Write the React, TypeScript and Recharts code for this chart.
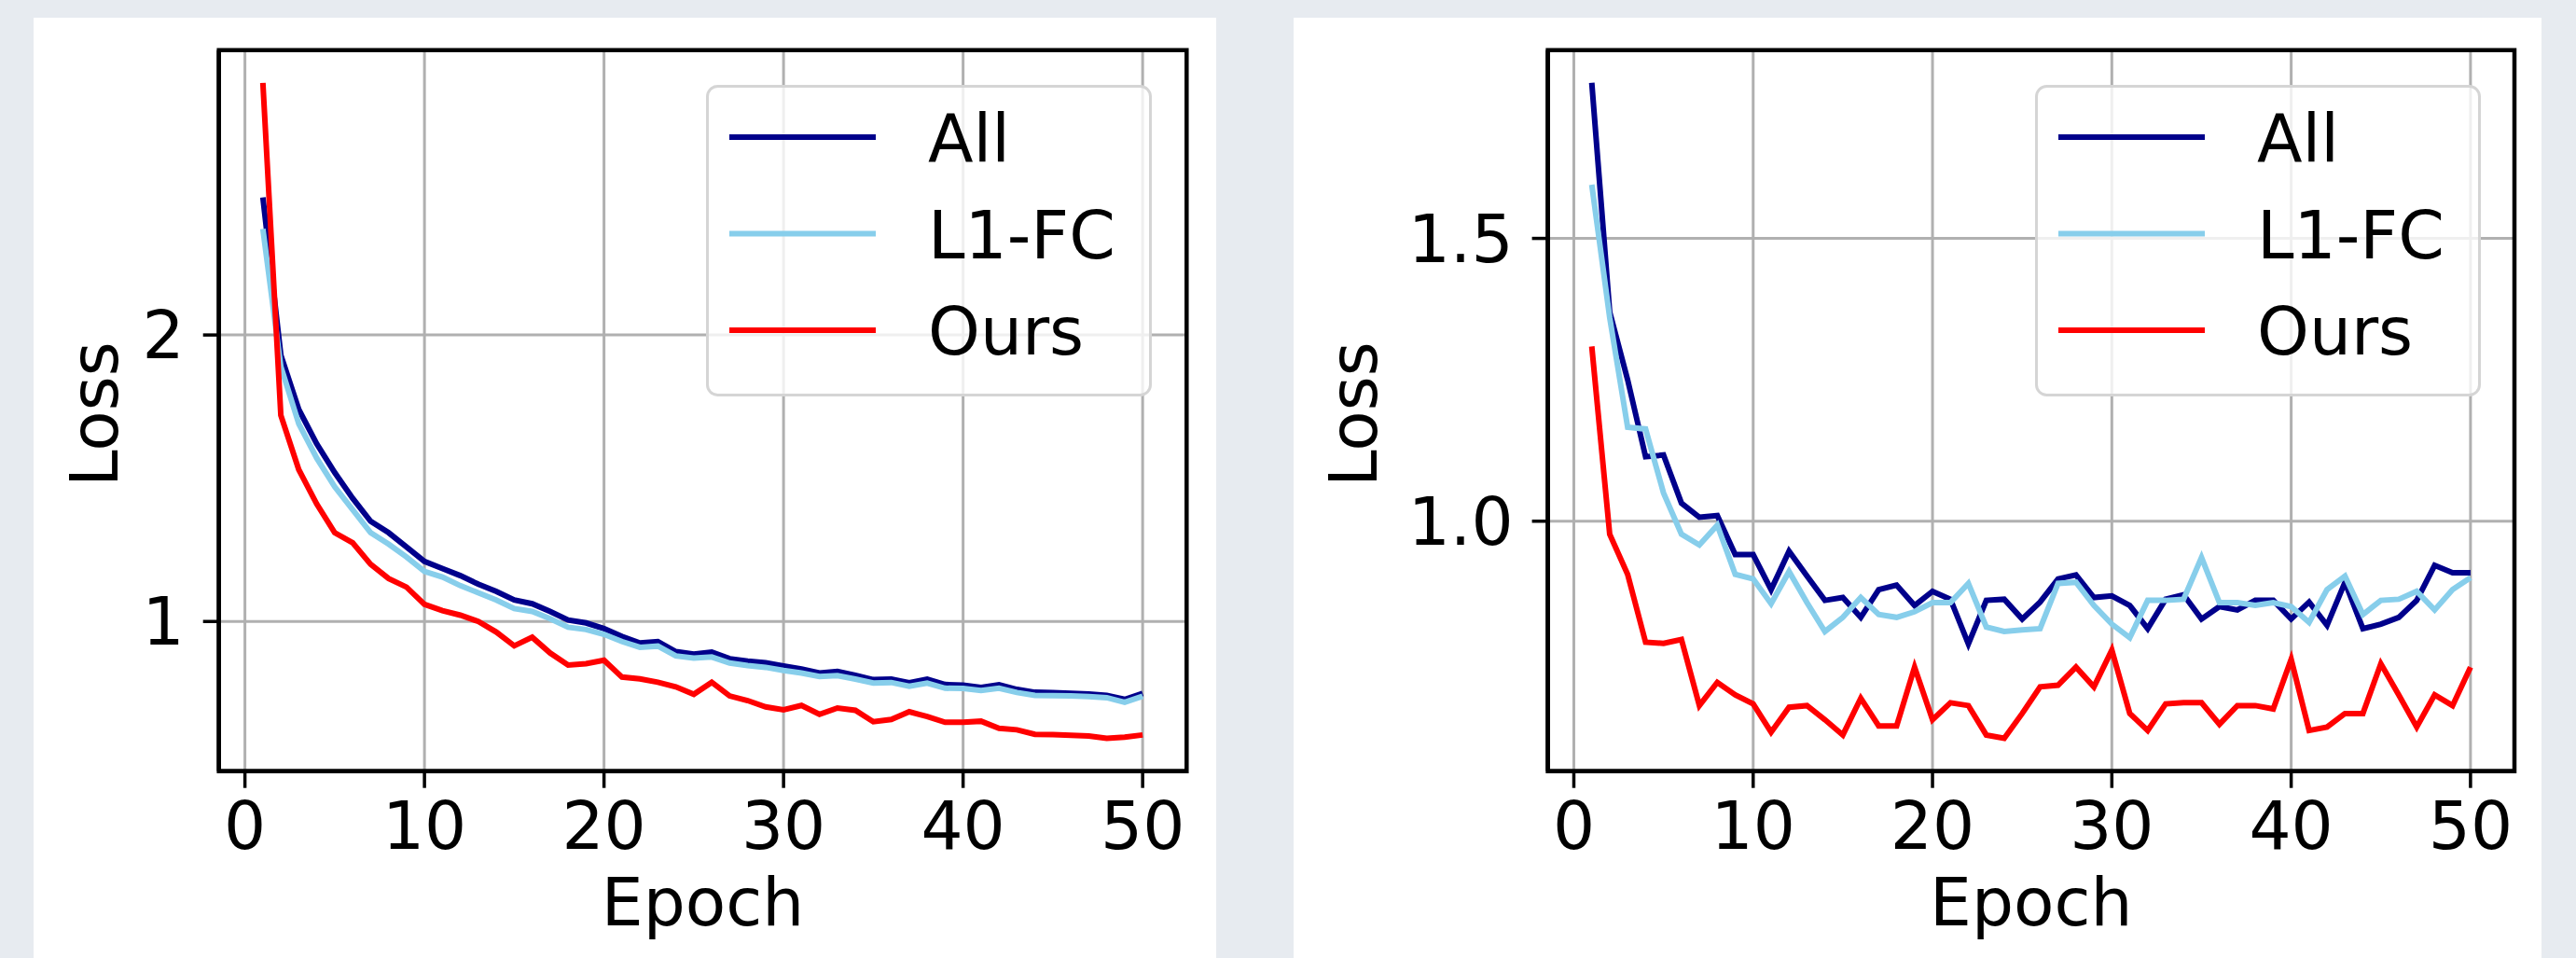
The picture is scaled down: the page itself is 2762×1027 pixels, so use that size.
import React from 'react';
import { LineChart, Line, XAxis, YAxis, CartesianGrid, Legend, ReferenceArea } from 'recharts';

// epochs on the x axis
const epochs = [
    1, 2, 3, 4, 5, 6, 7, 8, 9, 10, 11, 12, 13, 14, 15, 16, 17, 18, 19, 20, 21, 22, 23, 24, 25,
    26, 27, 28, 29, 30, 31, 32, 33, 34, 35, 36, 37, 38, 39, 40, 41, 42, 43, 44, 45, 46, 47, 48, 49, 50,
];
const seriesNames = ['All', 'L1-FC', 'Ours'];
const xTicks = [0, 10, 20, 30, 40, 50];

// left panel
const leftAll = [
    2.48, 1.93, 1.74, 1.62, 1.52, 1.43, 1.35, 1.31, 1.26, 1.21, 1.185, 1.16, 1.13, 1.105, 1.075, 1.062, 1.035,
    1.005, 0.995, 0.975, 0.948, 0.925, 0.93, 0.895, 0.886, 0.893, 0.87, 0.862, 0.856, 0.845, 0.834, 0.82, 0.826,
    0.812, 0.797, 0.799, 0.786, 0.799, 0.78, 0.778, 0.77, 0.779, 0.763, 0.753, 0.752, 0.749, 0.747, 0.742, 0.728, 0.749,
];
const leftL1FC = [
    2.37, 1.89, 1.69, 1.57, 1.47, 1.39, 1.31, 1.27, 1.225, 1.175, 1.155, 1.125, 1.1, 1.075, 1.045, 1.035, 1.01,
    0.98, 0.972, 0.955, 0.93, 0.91, 0.914, 0.88, 0.872, 0.876, 0.855, 0.846, 0.84, 0.829, 0.82, 0.808, 0.811,
    0.799, 0.785, 0.787, 0.774, 0.785, 0.767, 0.766, 0.759, 0.767, 0.752, 0.742, 0.741, 0.74, 0.738, 0.734, 0.718, 0.739,
];
const leftOurs = [
    2.88, 1.72, 1.53, 1.41, 1.31, 1.275, 1.2, 1.15, 1.12, 1.06, 1.038, 1.022, 1.0, 0.963, 0.915, 0.945, 0.89,
    0.848, 0.853, 0.865, 0.806, 0.8, 0.788, 0.772, 0.746, 0.788, 0.74, 0.724, 0.702, 0.692, 0.707, 0.676, 0.698,
    0.69, 0.65, 0.658, 0.685, 0.668, 0.648, 0.648, 0.652, 0.627, 0.622, 0.606, 0.605, 0.603, 0.6, 0.592, 0.596, 0.604,
];
const leftYTicks = [1, 2];

// right panel
const rightAll = [
    1.775, 1.37, 1.25, 1.114, 1.117, 1.032, 1.007, 1.01, 0.941, 0.941, 0.879, 0.947, 0.903, 0.86, 0.865, 0.83, 0.879,
    0.887, 0.851, 0.876, 0.862, 0.783, 0.86, 0.862, 0.827, 0.857, 0.898, 0.905, 0.865, 0.868, 0.851, 0.81, 0.862,
    0.87, 0.827, 0.849, 0.843, 0.86, 0.86, 0.827, 0.857, 0.816, 0.892, 0.81, 0.818, 0.83, 0.86, 0.922, 0.909, 0.909,
];
const rightL1FC = [
    1.595, 1.36, 1.166, 1.163, 1.05, 0.977, 0.958, 0.993, 0.906, 0.898, 0.854, 0.911, 0.856, 0.805, 0.83, 0.865, 0.835,
    0.83, 0.84, 0.856, 0.856, 0.89, 0.813, 0.805, 0.808, 0.81, 0.89, 0.892, 0.851, 0.818, 0.794, 0.86, 0.86,
    0.862, 0.936, 0.856, 0.856, 0.851, 0.856, 0.849, 0.821, 0.879, 0.903, 0.835, 0.86, 0.862, 0.876, 0.843, 0.879, 0.9,
];
const rightOurs = [
    1.309, 0.977, 0.906, 0.786, 0.784, 0.791, 0.674, 0.715, 0.693, 0.677, 0.627, 0.671, 0.674, 0.649, 0.622, 0.687, 0.638,
    0.638, 0.742, 0.649, 0.679, 0.674, 0.622, 0.616, 0.66, 0.707, 0.71, 0.742, 0.707, 0.772, 0.66, 0.63, 0.677,
    0.679, 0.679, 0.641, 0.674, 0.674, 0.668, 0.756, 0.63, 0.636, 0.66, 0.66, 0.748, 0.693, 0.636, 0.693, 0.674, 0.742,
];
const rightYTicks = [1.0, 1.5];

const colors = ['#00008b', '#87ceeb', '#ff0000'];
const FONT = 'DejaVu Sans';
const FS = 71;

const buildRows = (a: number[], b: number[], c: number[]) =>
    epochs.map((e, i) => ({ epoch: e, [seriesNames[0]]: a[i], [seriesNames[1]]: b[i], [seriesNames[2]]: c[i] }));

// matplotlib-like 5% margins
const padDomain = (vals: number[]): [number, number] => {
    const lo = Math.min(...vals);
    const hi = Math.max(...vals);
    const p = (hi - lo) * 0.05;
    return [lo - p, hi + p];
};

const LegendBox = ({ payload }: any) => (
    <svg width={478} height={334} style={{ display: 'block' }}>
        <rect x={1.5} y={1.5} width={475} height={331} rx={11} fill="#ffffff" fillOpacity={0.8} stroke="#d5d5d5" strokeWidth={3} />
        {(payload || []).map((p: any, i: number) => {
            const y = 56 + i * 103.5;
            return (
                <g key={p.value}>
                    <line x1={25} x2={182} y1={y} y2={y} stroke={p.color} strokeWidth={6} />
                    <text x={238} y={y + 26} fontSize={FS} fontFamily={FONT} fill="#000">{p.value}</text>
                </g>
            );
        })}
    </svg>
);

interface PanelProps {
    rows: any[];
    yTicks: number[];
    yDomain: [number, number];
    width: number;
    marginLeft: number;
    marginRight: number;
    legendLeft: number;
    lossDx: number;
    fmt: (v: number) => string;
}

const Panel: React.FC<PanelProps> = ({ rows, yTicks, yDomain, width, marginLeft, marginRight, legendLeft, lossDx, fmt }) => {
    const xDomain: [number, number] = [epochs[0] - 2.45, epochs[epochs.length - 1] + 2.45];
    return (
        <LineChart width={width} height={1008} data={rows} margin={{ top: 34.7, right: marginRight, bottom: 80.3, left: marginLeft }}>
            <CartesianGrid stroke="#b0b0b0" strokeWidth={3} />
            <XAxis
                dataKey="epoch"
                type="number"
                domain={xDomain}
                ticks={xTicks}
                height={120}
                stroke="#000"
                axisLine={{ stroke: '#000', strokeWidth: 4.5 }}
                tickLine={{ stroke: '#000', strokeWidth: 3.5 }}
                tickSize={18}
                tickMargin={15}
                tick={{ fill: '#000', fontSize: FS, fontFamily: FONT }}
                label={{
                    content: (props: any) => {
                        const vb = props.viewBox;
                        return (
                            <text x={vb.x + vb.width / 2} y={vb.y + 165} textAnchor="middle" fontSize={FS} fontFamily={FONT} fill="#000">Epoch</text>
                        );
                    },
                }}
            />
            <YAxis
                type="number"
                domain={yDomain}
                ticks={yTicks}
                width={120}
                tickFormatter={fmt}
                axisLine={{ stroke: '#000', strokeWidth: 4.5 }}
                tickLine={{ stroke: '#000', strokeWidth: 3.5 }}
                tickSize={17}
                tickMargin={20}
                tick={{ fill: '#000', fontSize: FS, fontFamily: FONT }}
                label={{
                    content: (props: any) => {
                        const vb = props.viewBox;
                        const x = vb.x + vb.width + lossDx;
                        const y = vb.y + vb.height / 2 + 4;
                        return (
                            <text x={x} y={y} transform={`rotate(-90, ${x}, ${y})`} textAnchor="middle" fontSize={FS} fontFamily={FONT} fill="#000">Loss</text>
                        );
                    },
                }}
            />
            <ReferenceArea x1={xDomain[0]} x2={xDomain[1]} y1={yDomain[0]} y2={yDomain[1]} fill="none" stroke="#000" strokeWidth={4.5} />
            {seriesNames.map((name, i) => (
                <Line
                    key={name}
                    type="linear"
                    dataKey={name}
                    name={name}
                    stroke={colors[i]}
                    strokeWidth={6}
                    dot={false}
                    activeDot={false}
                    isAnimationActive={false}
                />
            ))}
            <Legend
                layout="vertical"
                align="center"
                verticalAlign="middle"
                content={<LegendBox />}
                wrapperStyle={{ left: legendLeft, top: 71.7, width: 478, height: 334 }}
            />
        </LineChart>
    );
};

const App: React.FC = () => {
    const leftRows = buildRows(leftAll, leftL1FC, leftOurs);
    const rightRows = buildRows(rightAll, rightL1FC, rightOurs);
    return (
        <div style={{ position: 'absolute', left: 0, top: 0, width: 2762, height: 1027, background: '#e7ebf0', overflow: 'hidden' }}>
            <div style={{ position: 'absolute', left: 36, top: 19, width: 1268, height: 1008, background: '#ffffff' }}>
                <Panel
                    rows={leftRows}
                    yTicks={leftYTicks}
                    yDomain={padDomain([...leftAll, ...leftL1FC, ...leftOurs])}
                    width={1268}
                    marginLeft={78.7}
                    marginRight={31.7}
                    legendLeft={720.7}
                    lossDx={-109}
                    fmt={(v) => String(v)}
                />
            </div>
            <div style={{ position: 'absolute', left: 1387, top: 19, width: 1338, height: 1008, background: '#ffffff' }}>
                <Panel
                    rows={rightRows}
                    yTicks={rightYTicks}
                    yDomain={padDomain([...rightAll, ...rightL1FC, ...rightOurs])}
                    width={1338}
                    marginLeft={152.6}
                    marginRight={29}
                    legendLeft={794.6}
                    lossDx={-184}
                    fmt={(v) => v.toFixed(1)}
                />
            </div>
        </div>
    );
};

export default App;
